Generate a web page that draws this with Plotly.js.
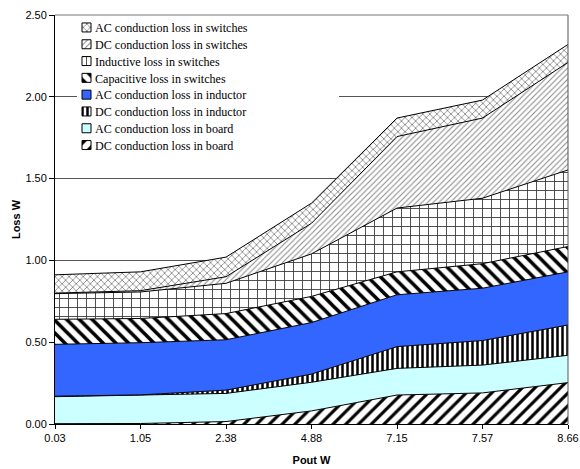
<!DOCTYPE html>
<html><head><meta charset="utf-8">
<script src="https://cdn.plot.ly/plotly-3.0.1.min.js"></script>
<style>body{margin:0;background:#fff}#chart{width:580px;height:469px}</style>
</head><body><div id="chart"></div>
<script>
const categories = ['0.03','1.05','2.38','4.88','7.15','7.57','8.66'];
const dcBoard    = [0.002, 0.003, 0.015, 0.080, 0.177, 0.190, 0.253];
const acBoard    = [0.165, 0.172, 0.172, 0.175, 0.163, 0.170, 0.167];
const dcInductor = [0.003, 0.003, 0.020, 0.050, 0.133, 0.150, 0.185];
const acInductor = [0.317, 0.319, 0.308, 0.315, 0.317, 0.320, 0.325];
const capSwitch  = [0.153, 0.148, 0.160, 0.160, 0.140, 0.150, 0.155];
const indSwitch  = [0.157, 0.162, 0.185, 0.260, 0.390, 0.400, 0.468];
const dcSwitch   = [0.003, 0.008, 0.040, 0.187, 0.437, 0.490, 0.657];
const acSwitch   = [0.112, 0.115, 0.120, 0.123, 0.113, 0.110, 0.110];

const seriesNames = ['DC conduction loss in board','AC conduction loss in board','DC conduction loss in inductor','AC conduction loss in inductor','Capacitive loss in switches','Inductive loss in switches','DC conduction loss in switches','AC conduction loss in switches'];
const seriesValues = [dcBoard, acBoard, dcInductor, acInductor, capSwitch, indSwitch, dcSwitch, acSwitch];
const styles = [
  {pattern:{shape:'/', bgcolor:'#ffffff', fgcolor:'#000000', size:9, solidity:0.35}},
  {color:'#CCFFFF'},
  {pattern:{shape:'|', bgcolor:'#ffffff', fgcolor:'#000000', size:5, solidity:0.5}},
  {color:'#3366FF'},
  {pattern:{shape:'\\', bgcolor:'#ffffff', fgcolor:'#000000', size:9, solidity:0.4}},
  {pattern:{shape:'+', bgcolor:'#ffffff', fgcolor:'#333333', size:9, solidity:0.18}},
  {pattern:{shape:'/', bgcolor:'#ffffff', fgcolor:'#888888', size:4, solidity:0.25}},
  {pattern:{shape:'x', bgcolor:'#ffffff', fgcolor:'#666666', size:5, solidity:0.25}}
];

const traces = seriesNames.map((n,i)=>{
  const t = {
    type:'scatter', mode:'lines', name:n, x:categories, y:seriesValues[i],
    stackgroup:'one', line:{color:'#000000', width:1, shape:'linear'}, hoverinfo:'skip'
  };
  if (styles[i].pattern) { t.fillpattern = styles[i].pattern; t.fillcolor = '#ffffff'; }
  else { t.fillcolor = styles[i].color; }
  return t;
});

const layout = {
  width:580, height:469,
  margin:{l:55, r:12, t:15, b:45},
  paper_bgcolor:'#ffffff', plot_bgcolor:'#ffffff',
  font:{family:'Liberation Sans, Arial, sans-serif', size:11, color:'#000000'},
  showlegend:true,
  legend:{x:0.0, y:1.005, xanchor:'left', yanchor:'top', traceorder:'reversed',
    bgcolor:'#ffffff', borderwidth:0, itemwidth:30,
    font:{family:'Liberation Serif, Times New Roman, serif', size:12.1, color:'#000000'}},
  xaxis:{type:'category', range:[0,6], showgrid:false, showline:true, linecolor:'#000000', linewidth:1,
    ticks:'outside', ticklen:4, tickcolor:'#000000', zeroline:false,
    tickfont:{size:11},
    title:{text:'<b>Pout W</b>', font:{size:11}, standoff:13}},
  yaxis:{range:[0,2.5], dtick:0.5, tickformat:'.2f', showgrid:true, gridcolor:'#555555', gridwidth:1,
    showline:true, linecolor:'#000000', linewidth:1, ticks:'outside', ticklen:5, tickcolor:'#000000',
    zeroline:false, tickfont:{size:11},
    title:{text:'<b>Loss W</b>', font:{size:11}, standoff:2}},
  shapes:[
    {type:'line', xref:'paper', yref:'paper', x0:1, x1:1, y0:0, y1:1, line:{color:'#555555', width:1}},
    {type:'line', xref:'paper', yref:'paper', x0:0, x1:1, y0:1, y1:1, line:{color:'#777777', width:1}}
  ]
};
const gd = document.getElementById('chart');
Plotly.newPlot(gd, traces, layout, {displayModeBar:false, staticPlot:true}).then(()=>{
  // compact legend rows and square swatches, like the original spreadsheet legend
  const items = Array.from(gd.querySelectorAll('.legend .traces')).map(g=>{
    const m = /translate\(\s*([-\d.e]+)[\s,]+([-\d.e]+)\s*\)/.exec(g.getAttribute('transform')||'');
    return {g, x: m?parseFloat(m[1]):0, y: m?parseFloat(m[2]):0};
  }).sort((a,b)=>a.y-b.y);
  const step = 16.8;
  const y0 = items.length ? items[0].y : 0;
  items.forEach((it,i)=>{
    it.g.setAttribute('transform', 'translate(' + it.x + ',' + (y0 + i*step) + ')');
    it.g.querySelectorAll('.legendfill path').forEach(p=>p.setAttribute('d','M27,-4.5h9v9h-9z'));
    it.g.querySelectorAll('.legendlines path').forEach(p=>{
      p.setAttribute('d','M27,-4.5h9v9h-9z'); p.style.fill='none'; p.style.strokeWidth='1px'; p.style.stroke='#000';
    });
  });
  const bg = gd.querySelector('.legend rect.bg');
  if (bg && items.length) {
    bg.setAttribute('x', 22);
    bg.setAttribute('width', 262);
    bg.setAttribute('y', 4);
    bg.setAttribute('height', y0 + (items.length-1)*step + 6);
  }
});
</script></body></html>
